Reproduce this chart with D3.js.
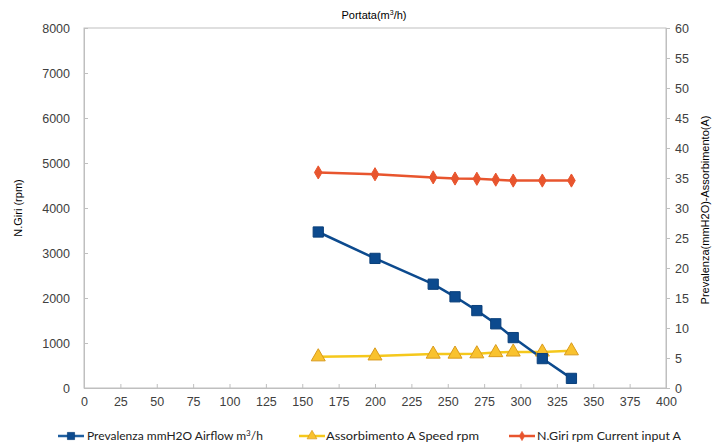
<!DOCTYPE html>
<html><head><meta charset="utf-8">
<script src="https://cdn.jsdelivr.net/npm/d3@7"></script>
<style>body{margin:0;background:#fff}svg{display:block}</style>
</head><body><div id="chart"></div>
<script>
const airflow = [161, 200, 240, 255, 270, 283, 295, 315, 335];
const prevalenza = [26.0, 21.6, 17.3, 15.2, 12.9, 10.7, 8.4, 4.9, 1.6];
const assorbimento = [5.2, 5.35, 5.65, 5.65, 5.7, 5.9, 6.0, 6.0, 6.2];
const giri = [4790, 4750, 4680, 4655, 4650, 4630, 4610, 4610, 4610];
const xTicks = d3.range(0, 401, 25);
const leftTicks = d3.range(0, 8001, 1000);
const rightTicks = d3.range(0, 61, 5);
const leftTitle = "N.Giri (rpm)";
const rightTitle = "Prevalenza(mmH2O)-Assorbimento(A)";
const legendLabels = ["Prevalenza mmH2O Airflow m", "Assorbimento A  Speed rpm", "N.Giri rpm Current input A"];

const W = 723, H = 446;
const m = {l: 84, r: 57, t: 28, b: 58};
const svg = d3.select("#chart").append("svg").attr("width", W).attr("height", H);
const x = d3.scaleLinear().domain([0, 400]).range([m.l, W - m.r]);
const yL = d3.scaleLinear().domain([0, 8000]).range([H - m.b, m.t]);
const yR = d3.scaleLinear().domain([0, 60]).range([H - m.b, m.t]);
const axisCol = "#bfbfbf", textCol = "#404040";
const font = "Liberation Sans, Arial, sans-serif";

svg.append("rect").attr("x", m.l).attr("y", m.t).attr("width", x(400) - m.l).attr("height", yL(0) - m.t)
  .attr("fill", "none").attr("stroke", axisCol).attr("stroke-width", 1);

const gx = svg.append("g").attr("transform", `translate(0,${yL(0)})`)
  .call(d3.axisBottom(x).tickValues(xTicks).tickSize(-4).tickPadding(9).tickFormat(d3.format("d")));
const gl = svg.append("g").attr("transform", `translate(${m.l},0)`)
  .call(d3.axisLeft(yL).tickValues(leftTicks).tickSize(-4).tickPadding(14).tickFormat(d3.format("d")));
const gr = svg.append("g").attr("transform", `translate(${x(400)},0)`)
  .call(d3.axisRight(yR).tickValues(rightTicks).tickSize(4).tickPadding(5).tickFormat(d3.format("d")));
[gx, gl, gr].forEach(g => {
  g.select(".domain").attr("stroke", axisCol);
  g.selectAll(".tick line").attr("stroke", axisCol);
  g.selectAll(".tick text").attr("fill", textCol).attr("font-family", font).attr("font-size", 12.5);
});

const tt = svg.append("text").attr("x", 374).attr("y", 19).attr("text-anchor", "middle")
  .attr("font-family", font).attr("font-size", 11).attr("fill", "#000");
tt.append("tspan").text("Portata(m");
tt.append("tspan").attr("dy", -4).attr("font-size", 7).text("3");
tt.append("tspan").attr("dy", 4).text("/h)");
svg.append("text").attr("transform", `translate(22,${(m.t + yL(0)) / 2}) rotate(-90)`)
  .attr("text-anchor", "middle").attr("font-family", font).attr("font-size", 11).attr("fill", "#000").text(leftTitle);
svg.append("text").attr("transform", `translate(709,${(m.t + yL(0)) / 2 + 2}) rotate(-90)`)
  .attr("text-anchor", "middle").attr("font-family", font).attr("font-size", 11).attr("fill", "#000").text(rightTitle);

const blue = "#0c4a8e", yellow = "#f5c81c", red = "#e8552e";
const pts = (ys, sc) => airflow.map((a, i) => [x(a), sc(ys[i])]);
const line = d3.line();

svg.append("path").attr("d", line(pts(assorbimento, yR))).attr("fill", "none").attr("stroke", yellow).attr("stroke-width", 2.5);
svg.append("path").attr("d", line(pts(giri, yL))).attr("fill", "none").attr("stroke", red).attr("stroke-width", 2.5);
svg.append("path").attr("d", line(pts(prevalenza, yR))).attr("fill", "none").attr("stroke", blue).attr("stroke-width", 2.5);

const tri = d3.symbol().type(d3.symbolTriangle).size(85);
const sq = d3.symbol().type(d3.symbolSquare).size(105);
const dia = d3.symbol().type(d3.symbolDiamond).size(50);
function markers(p, sym, fill, stroke) {
  svg.append("g").selectAll("path").data(p).join("path")
    .attr("transform", d => `translate(${d[0]},${d[1]})`).attr("d", sym)
    .attr("fill", fill).attr("stroke", stroke).attr("stroke-width", 1);
}
markers(pts(assorbimento, yR), tri, "#f9c22e", "#d99a1c");
markers(pts(giri, yL), dia, red, red);
markers(pts(prevalenza, yR), sq, blue, "#0a3f7a");

const leg = [
  {x: 58, tx: 87, w: 178, label: legendLabels[0], col: "#1f5fa0", sym: sq, fill: blue, stroke: "#0a3f7a"},
  {x: 299, tx: 326, w: 153, label: legendLabels[1], col: yellow, sym: tri, fill: "#f9c22e", stroke: "#d99a1c"},
  {x: 509, tx: 537, w: 144, label: legendLabels[2], col: red, sym: dia, fill: red, stroke: red}
];
const ly = 436;
leg.forEach((d, i) => {
  const g = svg.append("g");
  g.append("line").attr("x1", d.x).attr("x2", d.x + 26).attr("y1", ly).attr("y2", ly).attr("stroke", d.col).attr("stroke-width", 2.5);
  g.append("path").attr("transform", `translate(${d.x + 13},${ly}) scale(0.7)`).attr("d", d.sym)
    .attr("fill", d.fill).attr("stroke", d.stroke);
  const t = g.append("text").attr("x", d.tx).attr("y", ly + 4).attr("font-family", "Lato, 'Open Sans', sans-serif")
    .attr("font-size", 12).attr("fill", "#222");
  if (i === 0) {
    t.append("tspan").text(d.label);
    t.append("tspan").attr("dy", -4).attr("font-size", 8).text("3");
    t.append("tspan").attr("dy", 4).text("/h");
  } else {
    t.text(d.label).attr("textLength", d.w).attr("lengthAdjust", "spacingAndGlyphs");
  }
});
</script></body></html>
